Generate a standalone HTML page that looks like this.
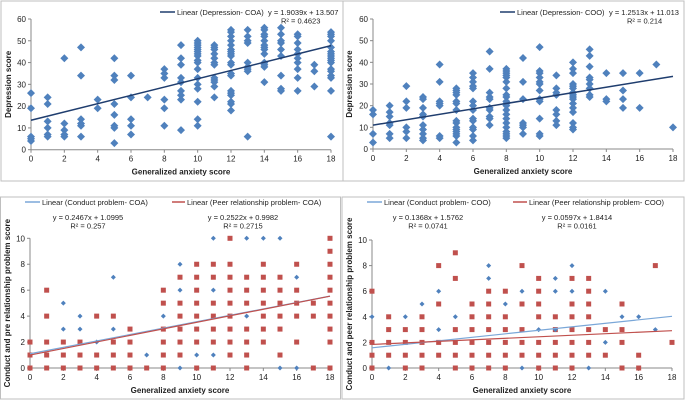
<!DOCTYPE html>
<html><head><meta charset="utf-8">
<style>
body{margin:0;background:#fff;width:685px;height:402px;overflow:hidden;font-family:"Liberation Sans",sans-serif}
svg text{font-family:"Liberation Sans",sans-serif}
</style></head>
<body>
<svg id="chart" width="685" height="402" xmlns="http://www.w3.org/2000/svg"></svg>
<script>
const dep_coa = [[26,19,6,5,4],[24,21,13,10,7,6],[42,12,9,7,6],[47,34,14,12,11,6],[23,19],[42,34,32,21,16,11,10,3],[34,24,14,11,7],[24],[37,35,33,23,19,11],[48,42,39,33,31,27,25,23,9],[50,49,48,47,46,45,44,43,41,40,37,33,30,28,22,14,11],[48,47,46,44,42,40,39,33,32,31,29,24],[55,54,52,50,48,46,45,44,43,40,39,35,34,27,26,25,22,21,18],[55,52,50,49,40,38,37,36,6],[56,55,53,52,50,48,47,46,44,40,39,38,31],[56,53,50,49,46,43,34,28,27],[53,52,49,46,44,42,40,37,33,27],[39,36,29],[54,53,52,50,47,45,44,43,42,41,40,37,36,34,33,27,6]];
const dep_coo = [[18,16,7,3],[20,17,15,12,11,7,5],[29,22,19,10,8,5],[24,23,19,16,15,11,9,7,5,4],[39,31,22,21,20,6,5],[28,27,26,25,22,21,18,13,12,10,9,8,7,6,3],[35,33,31,29,28,22,20,18,14,13,10,9,6,4],[45,37,26,24,23,19,18,15,14,11],[37,36,35,34,33,31,28,25,24,22,21,20,18,16,14,12,10,8,7,6,5],[42,31,23,12,11,10,7],[47,36,35,33,31,30,27,23,22,14,7,6],[34,28,26,25,18,16,13,11],[40,37,35,30,29,28,26,25,24,23,21,19,17,12,10,9],[46,43,38,33,32,30,28,25,24],[35,23,22],[35,27,23,19],[35,19],[39],[10]];
const peer_coa = [[2,1,0],[6,4,2,1,0],[2,1,0],[2,1,0],[4,1,0],[4,2,1,0],[3,2,1,0],[0],[6,5,3,2,1,0],[7,5,4,3,2,1],[8,7,6,5,4,3,2,0],[8,7,5,4,3,2,0],[10,8,7,6,5,4,3,2,1],[7,6,5,3,2,1,0],[8,7,6,5,4,3,2],[7,6,5,4,3,1],[8,6,5,4,2],[5,4,0],[10,9,8,7,6,5,4,3,2,0]];
const cond_coa = [[],[1],[5,3],[4,3],[2],[7,3],[],[1],[4],[8,6,0],[1],[10,6,1],[],[10,4],[10],[10,0],[7,0],[],[]];
const peer_coo = [[6,2,1,0],[4,3,2,1],[3,2,1,0],[4,3,2,1,0],[8,5,2,1],[9,7,3,2,1,0],[5,4,3,2,1,0],[6,5,4,3,2,1,0],[6,4,3,2,1,0],[8,5,3,2,1],[7,6,5,4,2,1,0],[4,3,2,1,0],[7,5,4,3,2,1,0],[7,6,5,4,3,2,1],[3,1],[5,3,2,0],[1,0],[8],[2]];
const cond_coo = [[4],[0],[4],[5],[6,3],[4],[],[8,7],[5],[6,0],[3],[7,6,3],[8,6],[0],[6,2],[4],[4],[3],[]];
const xTicks = [0,2,4,6,8,10,12,14,16,18];
const yTicksDep = [0,10,20,30,40,50,60];
const yTicksProb = [0,2,4,6,8,10];
const fitSlopes = [1.9039,1.2513,0.2467,0.2522,0.1368,0.0597];
const fitIntercepts = [13.507,11.013,1.0995,0.9982,1.5762,1.8414];

const svg=document.getElementById('chart');
const NS='http://www.w3.org/2000/svg';
function mk(tag,attrs,parent){const e=document.createElementNS(NS,tag);for(const k in attrs)e.setAttribute(k,attrs[k]);(parent||svg).appendChild(e);return e;}
function txt(s,x,y,size,anchor,parent,weight){const t=mk('text',{x:x,y:y,'font-size':size,'text-anchor':anchor||'start',fill:'#222','font-weight':weight||'normal'},parent);t.textContent=s;return t;}

function panel(cfg){
  const g=mk('g',{});
  
  
  const b=mk('rect',{x:cfg.box[0],y:cfg.box[1],width:cfg.box[2],height:cfg.box[3],fill:'#fff',stroke:'#bfbfbf','stroke-width':1},g);
  
  
  const sx=v=>cfg.x0+(v/18)*(cfg.x1-cfg.x0);
  const sy=v=>cfg.y0-(v/cfg.ymax)*(cfg.y0-cfg.ytop);
  const ax=mk('line',{x1:cfg.x0,y1:cfg.y0,x2:cfg.x1,y2:cfg.y0,stroke:'#888','stroke-width':1},g);
  
  
  const ay=mk('line',{x1:cfg.x0,y1:cfg.y0,x2:cfg.x0,y2:cfg.ytop,stroke:'#888','stroke-width':1},g);
  
  
  xTicks.forEach(v=>{mk('line',{x1:sx(v),y1:cfg.y0,x2:sx(v),y2:cfg.y0+3,stroke:'#888'},g);
    const t=txt(String(v),sx(v),cfg.y0+12,8,'middle',g);
    
    });
  cfg.yTicks.forEach(v=>{mk('line',{x1:cfg.x0-3,y1:sy(v),x2:cfg.x0,y2:sy(v),stroke:'#888'},g);
    const t=txt(String(v),cfg.x0-5,sy(v)+3,8,'end',g);
    
    });
  const xt=txt('Generalized anxiety score',(cfg.x0+cfg.x1)/2,cfg.y0+25,8,'middle',g,'bold');
  
  
  const yt=txt(cfg.ytitle,0,0,8,'middle',g,'bold');
  yt.setAttribute('transform','translate('+cfg.ytx+','+((cfg.y0+cfg.ytop)/2)+') rotate(-90)');
  
  
  cfg.series.forEach(s=>{
    s.data.forEach((ys,xi)=>ys.forEach(yv=>{
      const cx=sx(xi),cy=sy(yv);let m;
      if(s.shape==='diamond'){m=mk('polygon',{points:[cx,cy-4,cx+4,cy,cx,cy+4,cx-4,cy].join(' '),fill:'#4f81bd'},g);}
      else if(s.shape==='square'){m=mk('rect',{x:cx-2.5,y:cy-2.5,width:5,height:5,fill:'#c0504d'},g);}
      else {m=mk('polygon',{points:[cx,cy-2.5,cx+2.5,cy,cx,cy+2.5,cx-2.5,cy].join(' '),fill:'#4f81bd'},g);}
      
      
    }));
  });
  cfg.fits.forEach(f=>{
    const k=f.idx;const l=mk('line',{x1:sx(0),y1:sy(fitIntercepts[k]),x2:sx(18),y2:sy(fitIntercepts[k]+18*fitSlopes[k]),stroke:f.color,'stroke-width':f.w},g);
    
    
  });
  return g;
}

panel({name:'depression-coa-panel',box:[1,1,342,180],x0:31,x1:331,y0:149.7,ytop:19,ymax:60,yTicks:yTicksDep,ytitle:'Depression score',ytx:11,
  series:[{data:dep_coa,shape:'diamond',mark:'point-depression-coa'}],fits:[{idx:0,color:'#1f3d6e',w:1.5,name:'trendline-depression-coa'}]});
panel({name:'depression-coo-panel',box:[343,1,341,180],x0:373,x1:673,y0:149,ytop:19,ymax:60,yTicks:yTicksDep,ytitle:'Depression score',ytx:352,
  series:[{data:dep_coo,shape:'diamond',mark:'point-depression-coo'}],fits:[{idx:1,color:'#1f3d6e',w:1.5,name:'trendline-depression-coo'}]});
panel({name:'problems-coa-panel',box:[0.5,197,340,202],x0:30,x1:330,y0:368,ytop:238.3,ymax:10,yTicks:yTicksProb,ytitle:'Conduct and pre relationship problem score',ytx:10,
  series:[{data:cond_coa,shape:'small',mark:'point-conduct-coa'},{data:peer_coa,shape:'square',mark:'point-peer-coa'}],
  fits:[{idx:2,color:'#7aa7d8',w:1.2,name:'trendline-conduct-coa'},{idx:3,color:'#c0504d',w:1.2,name:'trendline-peer-coa'}]});
panel({name:'problems-coo-panel',box:[342,197,342,202],x0:372,x1:672,y0:368,ytop:240,ymax:10,yTicks:yTicksProb,ytitle:'Conduct and peer relationship problem score',ytx:352,
  series:[{data:peer_coo,shape:'square',mark:'point-peer-coo'},{data:cond_coo,shape:'small',mark:'point-conduct-coo'}],
  fits:[{idx:4,color:'#7aa7d8',w:1.2,name:'trendline-conduct-coo'},{idx:5,color:'#c0504d',w:1.2,name:'trendline-peer-coo'}]});

function legend(x1,x2,y,color,label,name){
  const g=mk('g',{});
  
  
  mk('line',{x1:x1,y1:y,x2:x2,y2:y,stroke:color,'stroke-width':1.5},g);
  txt(label,x2+2,y+3,7.5,'start',g);
}
function eq(lines,x,y,anchor,name){
  const g=mk('g',{});
  
  
  lines.forEach((s,i)=>txt(s,x,y+i*8.5,7.5,anchor,g));
}
legend(160,175,12,'#1f3d6e','Linear (Depression- COA)','legend-depression-coa');
eq(['y = 1.9039x + 13.507'],268,15,'start','equation-depression-coa');
eq(['R² = 0.4623'],281,23.5,'start','r2-depression-coa');
legend(500,515,12,'#1f3d6e','Linear (Depression- COO)','legend-depression-coo');
eq(['y = 1.2513x + 11.013'],609,15,'start','equation-depression-coo');
eq(['R² = 0.214'],627,23.5,'start','r2-depression-coo');
legend(25,40,202,'#7aa7d8','Linear (Conduct problem- COA)','legend-conduct-coa');
legend(172,185,202,'#c0504d','Linear (Peer relationship problem- COA)','legend-peer-coa');
eq(['y = 0.2467x + 1.0995','R² = 0.257'],88,220,'middle','equation-conduct-coa');
eq(['y = 0.2522x + 0.9982','R² = 0.2715'],243,220,'middle','equation-peer-coa');
legend(367,382,202,'#7aa7d8','Linear (Conduct problem- COO)','legend-conduct-coo');
legend(513,527,202,'#c0504d','Linear (Peer relationship problem- COO)','legend-peer-coo');
eq(['y = 0.1368x + 1.5762','R² = 0.0741'],428,220,'middle','equation-conduct-coo');
eq(['y = 0.0597x + 1.8414','R² = 0.0161'],577,220,'middle','equation-peer-coo');
</script>
</body></html>
